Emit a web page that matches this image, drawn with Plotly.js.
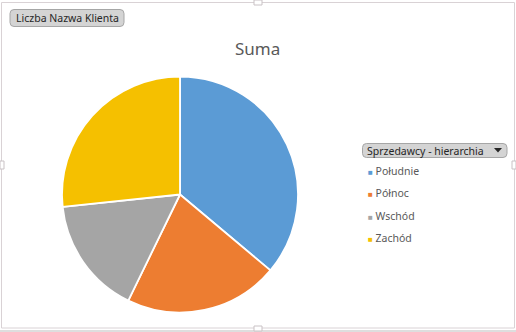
<!DOCTYPE html>
<html><head><meta charset="utf-8">
<script src="https://cdn.plot.ly/plotly-3.0.1.min.js"></script>
<style>html,body{margin:0;padding:0;background:#fff;}#c{width:516px;height:332px;}</style>
</head><body><div id="c"></div>
<script>
const categories = ["Południe", "Północ", "Wschód", "Zachód"];
const values = [65, 38, 29, 48];
const colors = ["#5B9BD5", "#ED7D31", "#A5A5A5", "#F5C000"];
const chartTitle = "Suma";
const fieldButton = "Liczba Nazwa Klienta";
const legendHeader = "Sprzedawcy - hierarchia";

const W = 516, H = 332;
const px = x => x / W, py = y => 1 - y / H;
const font = "Noto Sans, Open Sans, sans-serif";

const trace = {
  type: "pie", labels: categories, values: values, sort: false,
  direction: "clockwise", rotation: 0, textinfo: "none", hoverinfo: "label+value+percent",
  marker: {colors: colors, line: {color: "#ffffff", width: 1.8}},
  domain: {x: [px(62), px(298)], y: [py(312.5), py(76.5)]},
  showlegend: false
};

function rr(x0, y0, x1, y1, r) {
  const X0 = px(x0), X1 = px(x1), Y0 = py(y0), Y1 = py(y1), rx = r / W, ry = r / H;
  return `M${X0 + rx},${Y0} L${X1 - rx},${Y0} Q${X1},${Y0} ${X1},${Y0 - ry} L${X1},${Y1 + ry} Q${X1},${Y1} ${X1 - rx},${Y1} L${X0 + rx},${Y1} Q${X0},${Y1} ${X0},${Y1 + ry} L${X0},${Y0 - ry} Q${X0},${Y0} ${X0 + rx},${Y0} Z`;
}

const shapes = [
  {type: "rect", xref: "paper", yref: "paper", x0: px(1.5), x1: px(514.5), y0: py(328), y1: py(2.5), line: {color: "#D9D2D5", width: 1}},
  {type: "line", xref: "paper", yref: "paper", x0: px(0), x1: px(516), y0: py(331), y1: py(331), line: {color: "#BDBDBD", width: 1}},
  {type: "rect", xref: "paper", yref: "paper", x0: px(254), x1: px(262), y0: py(5), y1: py(0), fillcolor: "#fff", line: {color: "#C9C2C5", width: 1}},
  {type: "rect", xref: "paper", yref: "paper", x0: px(254), x1: px(262), y0: py(331), y1: py(326), fillcolor: "#fff", line: {color: "#C9C2C5", width: 1}},
  {type: "rect", xref: "paper", yref: "paper", x0: px(0), x1: px(4), y0: py(169), y1: py(161), fillcolor: "#fff", line: {color: "#C9C2C5", width: 1}},
  {type: "rect", xref: "paper", yref: "paper", x0: px(512), x1: px(516), y0: py(169), y1: py(161), fillcolor: "#fff", line: {color: "#C9C2C5", width: 1}},
  {type: "path", xref: "paper", yref: "paper", path: rr(10, 9.5, 124, 26.5, 4), fillcolor: "#D4D4D4", line: {color: "#A6A6A6", width: 1}},
  {type: "path", xref: "paper", yref: "paper", path: rr(362.5, 143.5, 507, 157.5, 4), fillcolor: "#D4D4D4", line: {color: "#A6A6A6", width: 1}},
  {type: "path", xref: "paper", yref: "paper", path: `M${px(494)},${py(148)} L${px(502)},${py(148)} L${px(498)},${py(152.5)} Z`, fillcolor: "#262626", line: {width: 0}}
];

const annotations = [
  {xref: "paper", yref: "paper", x: px(257), y: py(48), text: chartTitle, showarrow: false, xanchor: "center", yanchor: "middle", font: {family: font, size: 17, color: "#595959"}},
  {xref: "paper", yref: "paper", x: px(14), y: py(18), text: fieldButton, showarrow: false, xanchor: "left", yanchor: "middle", font: {family: font, size: 10.5, color: "#262626"}},
  {xref: "paper", yref: "paper", x: px(365), y: py(150.5), text: legendHeader, showarrow: false, xanchor: "left", yanchor: "middle", font: {family: font, size: 10.5, color: "#262626"}}
];
const rowY = [171, 193, 215.7, 238.3];
categories.forEach((c, i) => {
  annotations.push({xref: "paper", yref: "paper", x: px(366), y: py(rowY[i]), showarrow: false, xanchor: "left", yanchor: "middle",
    text: `<span style="color:${colors[i]};font-size:8px">■</span> ${c}`, font: {family: font, size: 10.5, color: "#595959"}});
});

Plotly.newPlot("c", [trace], {
  width: W, height: H, margin: {l: 0, r: 0, t: 0, b: 0},
  paper_bgcolor: "#ffffff", plot_bgcolor: "#ffffff",
  showlegend: false, shapes: shapes, annotations: annotations
}, {displayModeBar: false, staticPlot: true});
</script></body></html>
